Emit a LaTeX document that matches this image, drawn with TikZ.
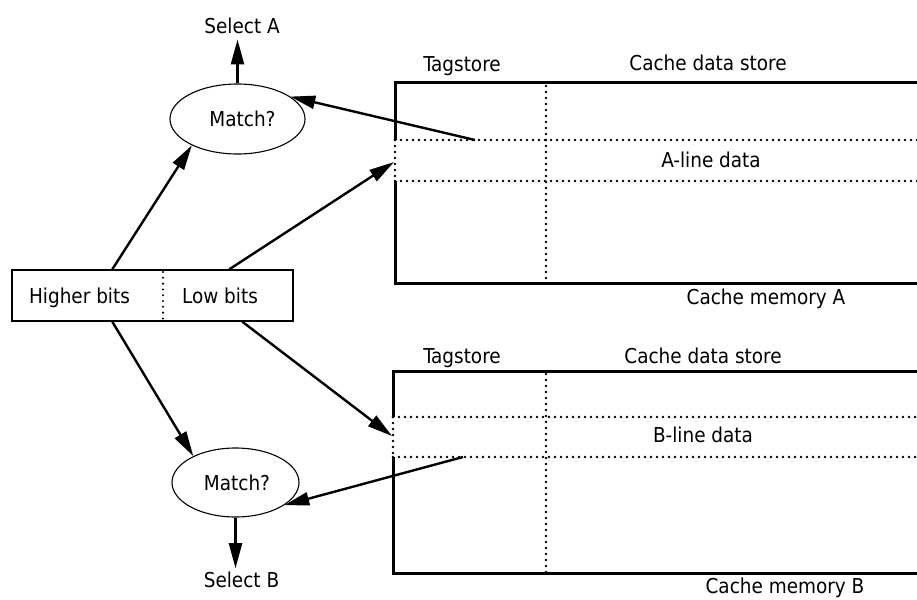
\documentclass[tikz,border=0pt]{standalone}
\usepackage{fontspec}
\setmainfont{DejaVu Sans Condensed}
\usetikzlibrary{arrows.meta,shapes.geometric,calc}
\begin{document}
\begin{tikzpicture}[x=1pt,y=-1pt,
  txt/.style={font=\fontsize{20.5}{24}\selectfont, inner sep=0pt, anchor=base},
  link/.style={line width=2.4pt, -{Triangle[length=25pt,width=13pt]}},
  matchnode/.style={ellipse, draw, line width=1.1pt, inner sep=0pt,
    font=\fontsize{20.5}{24}\selectfont},
  bitbox/.style={draw, line width=1.4pt, inner sep=0pt,
    minimum width=281pt, minimum height=51pt},
  frame/.style={line width=3pt},
  dots/.style={line width=2.6pt, line cap=round, dash pattern=on 0pt off 6pt},
  fine dots/.style={line width=2.3pt, line cap=round, dash pattern=on 0pt off 5.8pt}]
\useasboundingbox (0,0) rectangle (917,599);

% ---- cache memory A ----
\draw[frame] (930,83) -- (395,83) -- (395,140);
\draw[frame] (395,181) -- (395,283) -- (930,283);
\draw[dots] (395,140) -- (395,181);
\draw[dots] (395,140) -- (930,140);
\draw[dots] (395,181) -- (930,181);
\draw[dots] (546,86) -- (546,283);
\node[txt] (tagA)  at (462,72)  {Tagstore};
\node[txt] (cdsA)  at (708,71)  {Cache data store};
\node[txt] (lineA) at (711,167) {A-line data};
\node[txt] (memA)  at (766,304) {Cache memory A};
\coordinate (tagptA)  at (475,140);
\coordinate (portA)   at (394,162);

% ---- cache memory B ----
\draw[frame] (930,371) -- (393,371) -- (393,417);
\draw[frame] (393,457) -- (393,573) -- (930,573);
\draw[dots] (393,417) -- (393,457);
\draw[dots] (393,417) -- (930,417);
\draw[dots] (393,457) -- (930,457);
\draw[dots] (546,374) -- (546,573);
\node[txt] (tagB)  at (462,363) {Tagstore};
\node[txt] (cdsB)  at (703,363) {Cache data store};
\node[txt] (lineB) at (703,442) {B-line data};
\node[txt] (memB)  at (785,593) {Cache memory B};
\coordinate (tagptB)  at (463,457);
\coordinate (portB)   at (392,436);

% ---- address bits ----
\node[bitbox] (bits) at (152.5,295.5) {};
\draw[fine dots] (163,272) -- (163,320);
\node[txt] (hi) at (79.5,303) {Higher bits};
\node[txt] (lo) at (220,303)  {Low bits};

% ---- tag comparators ----
\node[matchnode, minimum width=135pt, minimum height=70pt] (matchA) at (237.5,119) {\hspace{10pt}Match?};
\node[matchnode, minimum width=127pt, minimum height=69pt] (matchB) at (235.5,482.5) {\hspace{3pt}Match?};
\node[txt] (selA) at (242,34)  {Select A};
\node[txt] (selB) at (241.5,587) {Select B};

% ---- connectors ----
\draw[link, shorten >=5pt] (matchA.north) -- (matchA.north |- selA.south);
\draw[link, shorten >=3pt] (matchB.south) -- (matchB.south |- selB.north);
\draw[link] (tagptA) -- (matchA.23);
\draw[link] (tagptB) -- (matchB.335);
\draw[link] ($(bits.north west)+(101,0)$) -- (matchA.210);
\draw[link] ($(bits.south west)+(101,0)$) -- (matchB.148);
\draw[link] ($(bits.north west)+(218,0)$) -- (portA);
\draw[link] ($(bits.south west)+(231,0)$) -- (portB);
\end{tikzpicture}
\end{document}
